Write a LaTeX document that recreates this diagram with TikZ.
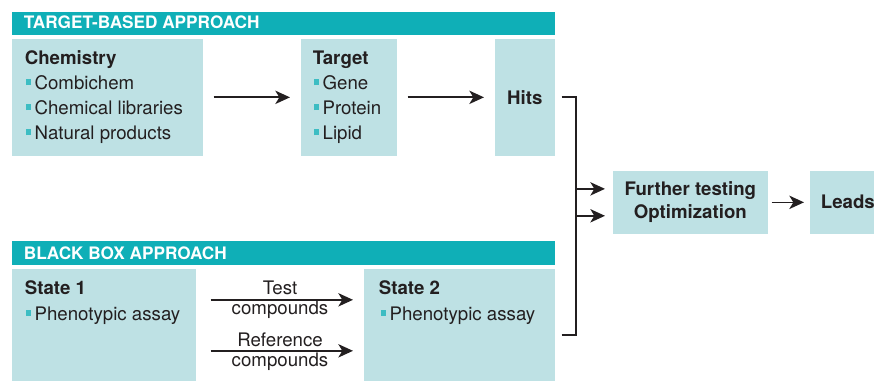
\documentclass[tikz,border=0pt]{standalone}
\usepackage{fontspec}
\setmainfont{TeX Gyre Heros}
\usetikzlibrary{arrows.meta}

\definecolor{headteal}{HTML}{0FAFB7}
\definecolor{boxblue}{HTML}{BEE1E4}
\definecolor{bulteal}{HTML}{3DBDC3}
\definecolor{ink}{HTML}{231F20}

\newcommand\bul{{\color{bulteal}\rule[3.7pt]{4.2pt}{4.4pt}}\hspace{2.4pt}}
\newcommand\bodyfont{\fontsize{14}{17.25}\selectfont}
\newcommand\headfont{\fontsize{12.9}{15}\selectfont\bfseries}

\tikzset{every picture/.style={line width=1.25pt}}
\tikzset{
  panel/.style={fill=boxblue, draw=none, inner sep=0pt, anchor=north west, text=ink, font=\bodyfont\bfseries},
  header/.style={fill=headteal, draw=none, inner sep=0pt, anchor=north west},
  txt/.style={anchor=base west, inner sep=0pt, text=ink, font=\bodyfont},
  midtxt/.style={anchor=base, inner sep=0pt, text=ink, font=\bodyfont},
  hdtxt/.style={anchor=base west, inner sep=0pt, text=white, font=\headfont},
  flow/.style={draw=ink, -{Stealth[length=11pt,width=10pt,inset=3pt]}},
}

\begin{document}
\begin{tikzpicture}[x=0.75pt,y=0.75pt,yscale=-1,xscale=1]
	\useasboundingbox (0,0) rectangle (874,381);

	%Shape: Header bars
	\node[header, minimum width=407.25pt, minimum height=17.25pt] (headtarget) at (11,11) {};
	\node[header, minimum width=407.25pt, minimum height=18pt] (headblack) at (11,240) {};
	%Shape: Boxes, target-based
	\node[panel, minimum width=143.25pt, minimum height=87.75pt] (chem) at (11,38) {};
	\node[panel, minimum width=72pt, minimum height=87.75pt] (target) at (300,38) {};
	\node[panel, minimum width=45pt, minimum height=87.75pt] (hits) at (494,38) {Hits};
	%Shape: Boxes, right side
	\node[panel, minimum width=116.25pt, minimum height=47.25pt, align=center] (further) at (612,170) {Further testing\\Optimization};
	\node[panel, minimum width=48.75pt, minimum height=47.25pt] (leads) at (809,170) {};
	%Shape: Boxes, black box
	\node[panel, minimum width=138pt, minimum height=84pt] (state1) at (11,268) {};
	\node[panel, minimum width=143.25pt, minimum height=84pt] (state2) at (363,268) {};

	% Text Node
	\node[hdtxt] (headtargettxt) at (23,29) {TARGET-BASED APPROACH};
	% Text Node
	\node[hdtxt] (headblacktxt) at (23,259) {BLACK BOX APPROACH};
	% Text Node
	\node[txt, font=\bodyfont\bfseries] (chemtitle) at (24,65) {Chemistry};
	\node[txt] (chem1) at (25,90) {\bul Combichem};
	\node[txt] (chem2) at (25,115) {\bul Chemical libraries};
	\node[txt] (chem3) at (25,140) {\bul Natural products};
	% Text Node
	\node[txt, font=\bodyfont\bfseries] (targettitle) at (312,65) {Target};
	\node[txt] (target1) at (313,90) {\bul Gene};
	\node[txt] (target2) at (313,115) {\bul Protein};
	\node[txt] (target3) at (313,140) {\bul Lipid};
	% Text Node
	\node[txt, font=\bodyfont\bfseries] (leadstxt) at (820,208.5) {Leads};
	% Text Node
	\node[txt, font=\bodyfont\bfseries] (state1title) at (24,294.5) {State 1};
	\node[txt] (state1item) at (25,320.5) {\bul Phenotypic assay};
	% Text Node
	\node[txt, font=\bodyfont\bfseries] (state2title) at (378,294.5) {State 2};
	\node[txt] (state2item) at (380,320.5) {\bul Phenotypic assay};
	% Text Node
	\node[midtxt] (testtxt) at (280,294.5) {Test};
	\node[midtxt] (testcmp) at (280,314.5) {compounds};
	\node[midtxt] (reftxt) at (280,346.5) {Reference};
	\node[midtxt] (refcmp) at (280,366) {compounds};

	%Straight Lines
	\draw[flow, shorten <=7.5pt, shorten >=7.5pt] (chem) -- (target);
	\draw[flow, shorten <=7.5pt, shorten >=7.5pt] (target) -- (hits);
	\draw[flow, shorten <=2.25pt, shorten >=3.75pt] (further) -- (leads);
	\draw[flow, shorten <=10.5pt, shorten >=7.5pt] ([yshift=19.5pt]state1.east) -- ([yshift=19.5pt]state2.west);
	\draw[flow, shorten <=10.5pt, shorten >=7.5pt] ([yshift=-18.75pt]state1.east) -- ([yshift=-18.75pt]state2.west);
	%Elbow Lines
	\draw[flow, shorten >=5.25pt] ([xshift=4.5pt]hits.east) -| ([xshift=-27pt,yshift=10.1pt]further.west) -- ([yshift=10.1pt]further.west);
	\draw[flow, shorten >=5.25pt] ([xshift=4.5pt,yshift=7.5pt]state2.east) -| ([xshift=-27pt,yshift=-10.1pt]further.west) -- ([yshift=-10.1pt]further.west);

\end{tikzpicture}
\end{document}
